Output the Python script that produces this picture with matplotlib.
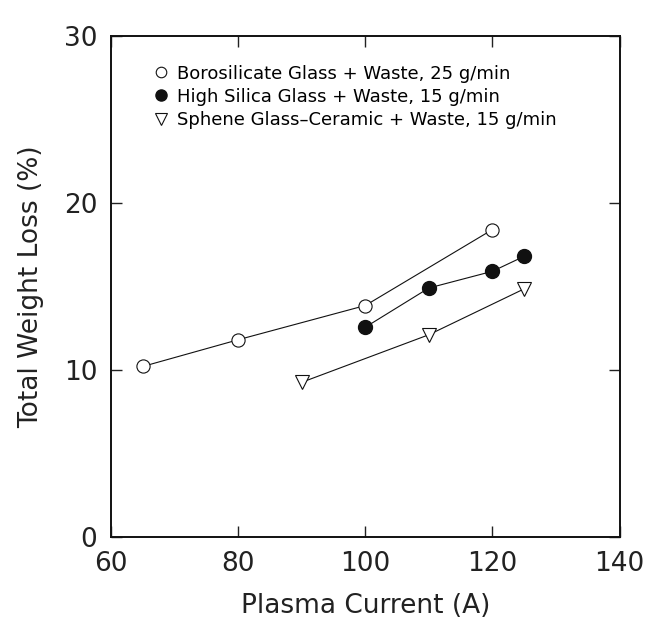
import matplotlib
matplotlib.use("Agg")
import matplotlib.pyplot as plt

INK = "#111111"

# Plasma current (A) and total weight loss (%)
boro_x = [65, 80, 100, 120]
boro_y = [10.2, 11.8, 13.85, 18.4]
silica_x = [100, 110, 120, 125]
silica_y = [12.55, 14.9, 15.9, 16.8]
sphene_x = [90, 110, 125]
sphene_y = [9.25, 12.1, 14.85]

labels = [
    "Borosilicate Glass + Waste, 25 g/min",
    "High Silica Glass + Waste, 15 g/min",
    "Sphene Glass\u2013Ceramic + Waste, 15 g/min",
]
x_ticks = [60, 80, 100, 120, 140]
y_ticks = [0, 10, 20, 30]

plt.rcParams.update({"font.family": "DejaVu Sans"})

fig = plt.figure(figsize=(6.57, 6.42), dpi=100)
fig.patch.set_facecolor("white")
ax = fig.add_axes([0.169, 0.164, 0.774, 0.780])

line_kw = dict(color=INK, linewidth=0.8)
ax.plot(boro_x, boro_y, marker="o", markersize=9.5, markerfacecolor="white",
        markeredgecolor=INK, markeredgewidth=0.8, label=labels[0], **line_kw)
ax.plot(silica_x, silica_y, marker="o", markersize=10, markerfacecolor=INK,
        markeredgecolor=INK, label=labels[1], **line_kw)
ax.plot(sphene_x, sphene_y, marker="v", markersize=10, markerfacecolor="white",
        markeredgecolor=INK, markeredgewidth=0.8, label=labels[2], **line_kw)

ax.set_xlim(60, 140)
ax.set_ylim(0, 30)
ax.set_xticks(x_ticks)
ax.set_yticks(y_ticks)
ax.tick_params(direction="in", length=8, width=1.0, top=True, right=True,
               labelsize=19, colors="#222222", pad=10)
for spine in ax.spines.values():
    spine.set_linewidth(1.4)
    spine.set_color(INK)

ax.set_xlabel("Plasma Current (A)", fontsize=19, color="#222222", labelpad=12)
ax.set_ylabel("Total Weight Loss (%)", fontsize=19, color="#222222", labelpad=14)

leg = ax.legend(loc="upper left", bbox_to_anchor=(0.066, 0.975), frameon=False,
                fontsize=13, handlelength=0, handletextpad=0.9,
                labelspacing=0.28, markerscale=0.8)

fig.savefig("out.png", dpi=100, facecolor="white")
